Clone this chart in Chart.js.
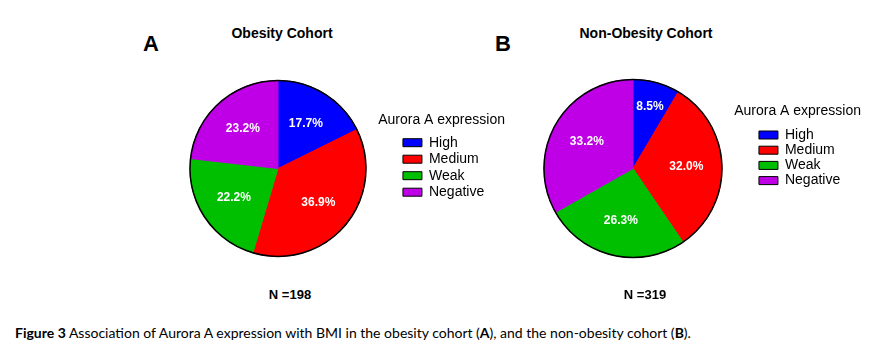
<!DOCTYPE html>
<html>
<head>
<meta charset="utf-8">
<script src="https://cdn.jsdelivr.net/npm/chart.js@4/dist/chart.umd.min.js"></script>
<style>
  body { margin: 0; background: #fff; }
  #page { position: relative; width: 874px; height: 350px; background: #fff; overflow: hidden; font-family: 'Liberation Sans', Arial, sans-serif; color: #000; }
  canvas { position: absolute; }
  .txt { position: absolute; white-space: nowrap; line-height: 1; }
  .panel { font-weight: bold; font-size: 22px; }
  .ttl { font-weight: bold; font-size: 14px; transform: translateX(-50%); }
  .nlab { font-weight: bold; font-size: 13px; transform: translateX(-50%); }
  #caption { left: 15px; top: 326px; font-family: Lato, 'Open Sans', sans-serif; font-size: 14px; }
</style>
</head>
<body>
<div id="page">
  <div class="txt panel" style="left:143px;top:33px">A</div>
  <div class="txt panel" style="left:495px;top:33px">B</div>
  <div class="txt ttl" id="titleA" style="left:282px;top:26px"></div>
  <div class="txt ttl" id="titleB" style="left:646px;top:26px"></div>
  <canvas id="pieA" width="370" height="220" style="left:150px;top:60px"></canvas>
  <canvas id="pieB" width="374" height="220" style="left:500px;top:60px"></canvas>
  <div class="txt nlab" id="nA" style="left:290px;top:288px"></div>
  <div class="txt nlab" id="nB" style="left:645px;top:288px"></div>
  <div class="txt" id="caption"><b>Figure 3</b> Association of Aurora A expression with BMI in the obesity cohort (<b>A</b>), and the non-obesity cohort (<b>B</b>).</div>
</div>
<script>
// values (percent of each cohort)
const categories = ['High', 'Medium', 'Weak', 'Negative'];
const obesityPct = [17.7, 36.9, 22.2, 23.2];
const nonObesityPct = [8.5, 32.0, 26.3, 33.2];
const cohortTitles = ['Obesity Cohort', 'Non-Obesity Cohort'];
const cohortN = [198, 319];
const legendTitle = 'Aurora A expression';
const sliceColors = ['#0000FF', '#FF0000', '#00BF00', '#BF00E6'];

const FONT = '"Liberation Sans", Arial, sans-serif';

document.getElementById('titleA').textContent = cohortTitles[0];
document.getElementById('titleB').textContent = cohortTitles[1];
document.getElementById('nA').textContent = 'N =' + cohortN[0];
document.getElementById('nB').textContent = 'N =' + cohortN[1];

// percent labels inside slices, black outline round the pie,
// and the legend title (chart.js clips it to the narrow legend box)
const pieDecor = {
    id: 'pieDecor',
    afterDatasetsDraw(chart) {
        const ctx = chart.ctx;
        const meta = chart.getDatasetMeta(0);
        const vals = chart.data.datasets[0].data;
        ctx.save();
        ctx.font = 'bold 12px ' + FONT;
        ctx.fillStyle = '#fff';
        ctx.textAlign = 'center';
        ctx.textBaseline = 'middle';
        meta.data.forEach((arc, i) => {
            const p = arc.getProps(['x', 'y', 'startAngle', 'endAngle', 'outerRadius'], true);
            const mid = (p.startAngle + p.endAngle) / 2;
            const r = p.outerRadius * (vals[i] < 10 ? 0.72 : 0.6);
            ctx.fillText(vals[i].toFixed(1) + '%', p.x + Math.cos(mid) * r, p.y + Math.sin(mid) * r);
        });
        const a = meta.data[0];
        ctx.beginPath();
        ctx.arc(a.x, a.y, a.outerRadius, 0, Math.PI * 2);
        ctx.lineWidth = 1.5;
        ctx.strokeStyle = '#000';
        ctx.stroke();
        ctx.restore();
    },
    afterDraw(chart) {
        const lg = chart.legend;
        const lo = lg.options;
        const ctx = chart.ctx;
        const x = lg.left + lo.labels.padding + lg.columnSizes[0].width / 2 - 2;
        const y = lg.top + lo.title.padding.top + 7;
        ctx.save();
        ctx.font = '14px ' + FONT;
        ctx.fillStyle = '#000';
        ctx.textAlign = 'center';
        ctx.textBaseline = 'middle';
        ctx.fillText(legendTitle, x, y);
        ctx.restore();
    }
};

function makePie(id, values, pad, legendPad, titlePad) {
    return new Chart(document.getElementById(id), {
        type: 'pie',
        data: {
            labels: categories,
            datasets: [{
                data: values,
                backgroundColor: sliceColors,
                borderColor: sliceColors,
                borderWidth: 1
            }]
        },
        options: {
            responsive: false,
            animation: false,
            devicePixelRatio: 1,
            layout: { padding: pad },
            plugins: {
                tooltip: { enabled: false },
                legend: {
                    position: 'right',
                    align: 'start',
                    title: {
                        // blank title keeps the space; the text is drawn by pieDecor
                        display: true,
                        text: ' ',
                        font: { family: FONT, size: 14 },
                        padding: titlePad
                    },
                    labels: {
                        boxWidth: 19,
                        boxHeight: 8,
                        padding: legendPad,
                        color: '#000',
                        font: { family: FONT, size: 14 },
                        generateLabels(chart) {
                            const items = Chart.overrides.doughnut.plugins.legend.labels.generateLabels(chart);
                            return items.map(it => Object.assign(it, { strokeStyle: '#000', lineWidth: 1 }));
                        }
                    }
                }
            }
        },
        plugins: [pieDecor]
    });
}

makePie('pieA', obesityPct, { left: 5.5, right: 25.8, top: 20, bottom: 23 }, 2.5, { top: 33, bottom: 3.4 });
makePie('pieB', nonObesityPct, { left: 8.2, right: 23.8, top: 19, bottom: 22 }, 1.2, { top: 24.7, bottom: 6.3 });
</script>
</body>
</html>
